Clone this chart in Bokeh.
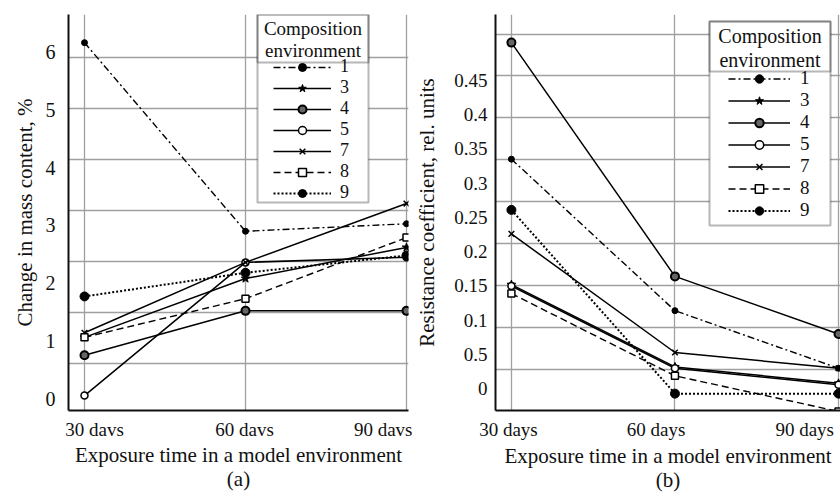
import numpy as np
from bokeh.plotting import figure
from bokeh.models import (FixedTicker, Legend, LegendItem, BoxAnnotation, Label,
                          Range1d)
from bokeh.layouts import row
from bokeh.embed import file_html
from bokeh.resources import INLINE

FONT = "Liberation Serif"

# ---------------- data ----------------
x_pos = [0, 1, 2]
x_labels_a = ["30 davs", "60 davs", "90 davs"]
x_labels_b = ["30 days", "60 days", "90 days"]
series_names = ["1", "3", "4", "5", "7", "8", "9"]

# (a) change in mass content, %
mass_1 = [6.17, 2.90, 3.03]
mass_3 = [1.06, 2.08, 2.62]
mass_4 = [0.75, 1.52, 1.52]
mass_5 = [0.05, 2.36, 2.45]
mass_7 = [1.14, 2.36, 3.38]
mass_8 = [1.06, 1.73, 2.79]
mass_9 = [1.77, 2.18, 2.48]

# (b) resistance coefficient, rel. units
res_1 = [0.335, 0.114, 0.030]
res_3 = [0.152, 0.032, 0.008]
res_4 = [0.505, 0.164, 0.080]
res_5 = [0.150, 0.030, 0.006]
res_7 = [0.226, 0.053, 0.030]
res_8 = [0.139, 0.019, -0.033]
res_9 = [0.261, -0.007, -0.007]

yticks_a = [0, 1, 2, 3, 4, 5, 6]
ytick_labels_a = ["0", "1", "2", "3", "4", "5", "6"]
yticks_b = [0, 0.05, 0.1, 0.15, 0.2, 0.25, 0.3, 0.35, 0.4, 0.45]
ytick_labels_b = ["0", "0.5", "0.1", "0.15", "0.2", "0.25", "0.3", "0.35", "0.4", "0.45"]

mass_series = [mass_1, mass_3, mass_4, mass_5, mass_7, mass_8, mass_9]
res_series = [res_1, res_3, res_4, res_5, res_7, res_8, res_9]

# ---------------- styles ----------------
STYLES = {
    "1": dict(dash="7 3 2 3", lw=1.4, marker="circle", size=6, fill="black", mlw=1),
    "3": dict(dash="solid", lw=1.5, marker="star", size=9, fill="black", mlw=1),
    "4": dict(dash="solid", lw=1.5, marker="circle", size=8, fill="#666666", mlw=2),
    "5": dict(dash="solid", lw=1.5, marker="circle", size=7, fill="white", mlw=1.5),
    "7": dict(dash="solid", lw=1.5, marker="x", size=8, fill="black", mlw=1.5),
    "8": dict(dash="7 4", lw=1.4, marker="square", size=7, fill="white", mlw=1.5),
    "9": dict(dash="2 2", lw=2, marker="circle", size=9, fill="black", mlw=1),
}


def make_panel(series, x_labels, label_shift_px, yticks, ytick_labels, grid_y,
               ylabel, tag, width, f_left, f_right, f_top, f_bottom, x_first,
               x_step, y0_px, y_scale, legend_geo, ax_geo):
    fw = f_right - f_left
    xs = -(x_first - f_left) / x_step
    xe = xs + fw / x_step
    ys = (y0_px - f_bottom) / y_scale
    ye = (y0_px - f_top) / y_scale
    p = figure(width=width, height=495, output_backend="svg", toolbar_location=None,
               x_range=Range1d(xs, xe), y_range=Range1d(ys, ye),
               min_border_left=f_left, min_border_right=width - f_right,
               min_border_top=f_top, min_border_bottom=495 - f_bottom)
    p.outline_line_color = None
    p.background_fill_color = "white"
    p.border_fill_color = "white"

    for ax in (p.xaxis[0], p.yaxis[0]):
        ax.axis_line_color = "#111111"
        ax.axis_line_width = 2
        ax.major_tick_line_color = None
        ax.minor_tick_line_color = None
        ax.major_tick_out = 0
        ax.major_tick_in = 0
        ax.minor_tick_out = 0
        ax.minor_tick_in = 0
        ax.major_label_text_font = FONT
        ax.major_label_text_color = "#111111"
        ax.axis_label_text_font = FONT
        ax.axis_label_text_font_style = "normal"
        ax.axis_label_text_font_size = "21px"
        ax.axis_label_text_color = "#111111"

    # tick labels sit slightly off the grid lines in the original figure
    label_x = [x + s / x_step for x, s in zip(x_pos, label_shift_px)]
    p.xaxis.ticker = FixedTicker(ticks=label_x)
    p.xaxis.major_label_overrides = {x: l for x, l in zip(label_x, x_labels)}
    p.xaxis.major_label_text_font_size = "19px"
    p.xaxis.major_label_standoff = ax_geo["xstand"]
    p.xaxis.axis_label = "Exposure time in a model environment\n" + tag
    p.xaxis.axis_label_standoff = ax_geo["xtitle_stand"]
    p.xaxis.axis_label_text_line_height = 1.0

    p.yaxis.ticker = FixedTicker(ticks=yticks)
    p.yaxis.major_label_overrides = {t: l for t, l in zip(yticks, ytick_labels)}
    p.yaxis.major_label_text_font_size = ax_geo["yfs"]
    p.yaxis.major_label_standoff = ax_geo["ystand"]
    p.yaxis.axis_label = ylabel
    p.yaxis.axis_label_standoff = ax_geo["ytitle_stand"]

    p.xgrid.ticker = FixedTicker(ticks=x_pos)
    p.ygrid.ticker = FixedTicker(ticks=grid_y)
    for g in (p.xgrid[0], p.ygrid[0]):
        g.grid_line_color = "#a0a0a0"
        g.grid_line_width = 1.3

    items = []
    for name, ys_ in zip(series_names, series):
        st = STYLES[name]
        lr = p.line(x_pos, ys_, line_color="black", line_width=st["lw"],
                    line_dash=st["dash"])
        sr = p.scatter(x_pos, ys_, marker=st["marker"], size=st["size"],
                       fill_color=st["fill"], line_color="black",
                       line_width=st["mlw"])
        items.append(LegendItem(label=name, renderers=[lr, sr]))

    (bl, br, bt, bb, div, gx, item_top, lab_h, gw, stand, t1, t2, tfs, lfs) = legend_geo

    def sx(v):
        return v - f_left

    def sy(v):
        return f_bottom - v

    box = BoxAnnotation(left=sx(bl), right=sx(br), top=sy(bt), bottom=sy(bb),
                        left_units="screen", right_units="screen",
                        top_units="screen", bottom_units="screen",
                        fill_color="white", fill_alpha=1,
                        line_color="#111111", line_width=2, level="annotation")
    tbox = BoxAnnotation(left=sx(bl), right=sx(br), top=sy(bt), bottom=sy(div),
                         left_units="screen", right_units="screen",
                         top_units="screen", bottom_units="screen",
                         fill_alpha=0, line_color="#111111", line_width=2,
                         level="annotation")
    p.add_layout(box)
    p.add_layout(tbox)
    cx = sx((bl + br) / 2)
    for txt, ty in (("Composition", t1), ("environment", t2)):
        p.add_layout(Label(x=cx, y=sy(ty), x_units="screen", y_units="screen",
                           text=txt, text_align="center", text_baseline="middle",
                           text_font=FONT, text_font_size=tfs,
                           text_color="#111111"))
    n = len(items)
    leg_h = n * lab_h
    legend = Legend(items=items, location=(sx(gx), sy(item_top + leg_h)),
                    padding=0, margin=0, spacing=0, label_height=lab_h,
                    glyph_height=lab_h, glyph_width=gw, label_standoff=stand,
                    border_line_color=None, background_fill_alpha=0,
                    label_text_font=FONT, label_text_font_size=lfs,
                    label_text_color="#111111")
    p.add_layout(legend)
    return p


grid_a = [0.607 + 0.885 * k for k in range(7)]
grid_b = [0.0287 + 0.0611 * k for k in range(9)]

pa = make_panel(mass_series, x_labels_a, [10, -1, -14], yticks_a, ytick_labels_a,
                grid_a, "Change in mass content, %", "(a)",
                width=412, f_left=68, f_right=408, f_top=14, f_bottom=410,
                x_first=84, x_step=161, y0_px=398, y_scale=57.67,
                legend_geo=(257, 368, 14, 202, 62, 273, 63, 20, 58, 9,
                            28, 50, "19px", "18px"),
                ax_geo=dict(xstand=8, xtitle_stand=0, yfs="20px", ystand=13,
                            ytitle_stand=6))

pb = make_panel(res_series, x_labels_b, [-3, -19, -34], yticks_b, ytick_labels_b,
                grid_b, "Resistance coefficient, rel. units", "(b)",
                width=428, f_left=81, f_right=428, f_top=10, f_bottom=412,
                x_first=97, x_step=164.5, y0_px=390, y_scale=696,
                legend_geo=(295, 416, 23, 227, 73, 314, 76, 21, 62, 10,
                            37, 61, "20px", "19px"),
                ax_geo=dict(xstand=8, xtitle_stand=1, yfs="19px", ystand=8,
                            ytitle_stand=12))

layout = row(pa, pb)
open("out.html", "w").write(file_html(layout, INLINE))
